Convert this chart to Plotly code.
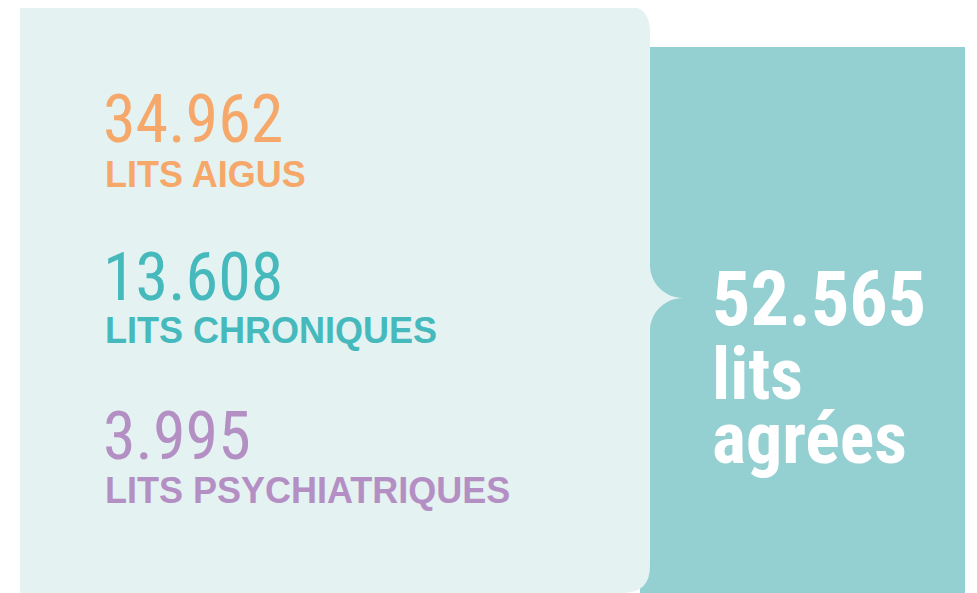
import plotly.graph_objects as go

# Data
values = ["34.962", "13.608", "3.995"]
labels = ["LITS AIGUS", "LITS CHRONIQUES", "LITS PSYCHIATRIQUES"]
colors = ["#f6a86a", "#45b9bc", "#b48fc3"]
total_value = "52.565"
total_lines = ["lits", "agrées"]

OFF = 8  # page body margin
W, H = 977, 593
LIGHT = "#e4f2f2"
TEAL = "#94d0d2"

fig = go.Figure()
fig.add_trace(go.Scatter(x=[OFF, W], y=[OFF, H], mode="markers", marker=dict(opacity=0),
                         hoverinfo="skip", showlegend=False))

# teal panel
fig.add_shape(type="rect", x0=640, x1=965, y0=47, y1=600, fillcolor=TEAL, line_width=0, layer="below")
# light panel with notch
path = ("M 20,5 H 623 Q 650,5 650,32 V 265 "
        "C 650,283.2 664.8,298 683,298 "
        "C 664.8,298 650,312.8 650,331 "
        "V 566 Q 650,593 623,593 H 20 Z")
fig.add_shape(type="path", path=path, fillcolor=LIGHT, line_width=0, layer="below")

num_font = "Roboto Condensed, Liberation Sans Narrow, DejaVu Sans Condensed, sans-serif"
lab_font = "Liberation Sans, Arial, sans-serif"

num_y = [119, 277.5, 436]
lab_y = [174.5, 330, 490]
for v, l, c, ny, ly in zip(values, labels, colors, num_y, lab_y):
    fig.add_annotation(x=101, y=ny, text=v, showarrow=False, xanchor="left", yanchor="middle",
                       font=dict(family=num_font, size=66, color=c, weight=400))
    fig.add_annotation(x=103, y=ly, text=f"<b>{l}</b>", showarrow=False, xanchor="left", yanchor="middle",
                       font=dict(family=lab_font, size=36, color=c))

fig.add_annotation(x=710, y=298.5, text=f"<b>{total_value}</b>", showarrow=False, xanchor="left", yanchor="middle",
                   font=dict(family=num_font, size=76, color="white"))
for t, yy in zip(total_lines, [374, 438]):
    fig.add_annotation(x=710, y=yy, text=f"<b>{t}</b>", showarrow=False, xanchor="left", yanchor="middle",
                       font=dict(family=num_font, size=72, color="white"))

fig.update_xaxes(range=[OFF, W], visible=False, fixedrange=True)
fig.update_yaxes(range=[H, OFF], visible=False, fixedrange=True)
fig.update_layout(width=W - OFF, height=H - OFF, margin=dict(l=0, r=0, t=0, b=0),
                  plot_bgcolor="white", paper_bgcolor="white", showlegend=False)
fig.write_html("out.html")
